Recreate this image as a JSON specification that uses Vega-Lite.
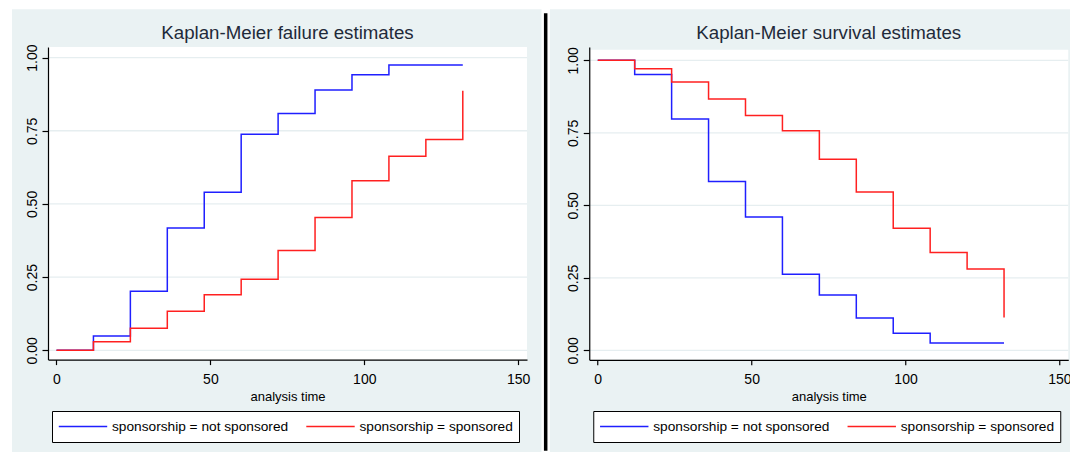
{
  "$schema": "https://vega.github.io/schema/vega-lite/v6.json",
  "background": "white",
  "padding": {"left": 11, "top": 9, "right": 0, "bottom": 0},
  "spacing": 1.25,
  "config": {
    "view": {"stroke": null},
    "font": "Liberation Sans",
    "axisX": {"tickSize": 5, "labelPadding": 8, "labelFontSize": 14, "labelFont": "Liberation Sans", "titleFont": "Liberation Sans", "titleFontSize": 13, "titlePadding": 3.5, "titleFontWeight": "normal", "grid": false, "labelFlush": false, "labelOverlap": false, "domainColor": "black", "tickColor": "black", "labelColor": "black", "titleColor": "black", "domainWidth": 1.2, "tickWidth": 1.2},
    "axisY": {"tickSize": 6, "labelAngle": 270, "labelAlign": "center", "labelBaseline": "alphabetic", "labelPadding": 6, "labelFontSize": 14, "labelFont": "Liberation Sans", "grid": false, "labelFlush": false, "labelOverlap": false, "domainColor": "black", "tickColor": "black", "labelColor": "black", "domainWidth": 1.2, "tickWidth": 1.2}
  },
  "datasets": {
    "failure": [
      {"o": 1, "t": 0, "v": 0, "group": "sponsorship = not sponsored"},
      {"o": 2, "t": 12, "v": 0.049, "group": "sponsorship = not sponsored"},
      {"o": 3, "t": 24, "v": 0.202, "group": "sponsorship = not sponsored"},
      {"o": 4, "t": 36, "v": 0.418, "group": "sponsorship = not sponsored"},
      {"o": 5, "t": 48, "v": 0.540, "group": "sponsorship = not sponsored"},
      {"o": 6, "t": 60, "v": 0.738, "group": "sponsorship = not sponsored"},
      {"o": 7, "t": 72, "v": 0.809, "group": "sponsorship = not sponsored"},
      {"o": 8, "t": 84, "v": 0.889, "group": "sponsorship = not sponsored"},
      {"o": 9, "t": 96, "v": 0.941, "group": "sponsorship = not sponsored"},
      {"o": 10, "t": 108, "v": 0.975, "group": "sponsorship = not sponsored"},
      {"o": 11, "t": 132, "v": 0.975, "group": "sponsorship = not sponsored"},
      {"o": 1, "t": 0, "v": 0, "group": "sponsorship = sponsored"},
      {"o": 2, "t": 12, "v": 0.029, "group": "sponsorship = sponsored"},
      {"o": 3, "t": 24, "v": 0.075, "group": "sponsorship = sponsored"},
      {"o": 4, "t": 36, "v": 0.133, "group": "sponsorship = sponsored"},
      {"o": 5, "t": 48, "v": 0.190, "group": "sponsorship = sponsored"},
      {"o": 6, "t": 60, "v": 0.243, "group": "sponsorship = sponsored"},
      {"o": 7, "t": 72, "v": 0.341, "group": "sponsorship = sponsored"},
      {"o": 8, "t": 84, "v": 0.454, "group": "sponsorship = sponsored"},
      {"o": 9, "t": 96, "v": 0.579, "group": "sponsorship = sponsored"},
      {"o": 10, "t": 108, "v": 0.663, "group": "sponsorship = sponsored"},
      {"o": 11, "t": 120, "v": 0.720, "group": "sponsorship = sponsored"},
      {"o": 12, "t": 132, "v": 0.720, "group": "sponsorship = sponsored"},
      {"o": 13, "t": 132, "v": 0.887, "group": "sponsorship = sponsored"}
    ],
    "survival": [
      {"o": 1, "t": 0, "v": 1, "group": "sponsorship = not sponsored"},
      {"o": 2, "t": 12, "v": 0.951, "group": "sponsorship = not sponsored"},
      {"o": 3, "t": 24, "v": 0.798, "group": "sponsorship = not sponsored"},
      {"o": 4, "t": 36, "v": 0.582, "group": "sponsorship = not sponsored"},
      {"o": 5, "t": 48, "v": 0.460, "group": "sponsorship = not sponsored"},
      {"o": 6, "t": 60, "v": 0.262, "group": "sponsorship = not sponsored"},
      {"o": 7, "t": 72, "v": 0.191, "group": "sponsorship = not sponsored"},
      {"o": 8, "t": 84, "v": 0.111, "group": "sponsorship = not sponsored"},
      {"o": 9, "t": 96, "v": 0.059, "group": "sponsorship = not sponsored"},
      {"o": 10, "t": 108, "v": 0.025, "group": "sponsorship = not sponsored"},
      {"o": 11, "t": 132, "v": 0.025, "group": "sponsorship = not sponsored"},
      {"o": 1, "t": 0, "v": 1, "group": "sponsorship = sponsored"},
      {"o": 2, "t": 12, "v": 0.971, "group": "sponsorship = sponsored"},
      {"o": 3, "t": 24, "v": 0.925, "group": "sponsorship = sponsored"},
      {"o": 4, "t": 36, "v": 0.867, "group": "sponsorship = sponsored"},
      {"o": 5, "t": 48, "v": 0.810, "group": "sponsorship = sponsored"},
      {"o": 6, "t": 60, "v": 0.757, "group": "sponsorship = sponsored"},
      {"o": 7, "t": 72, "v": 0.659, "group": "sponsorship = sponsored"},
      {"o": 8, "t": 84, "v": 0.546, "group": "sponsorship = sponsored"},
      {"o": 9, "t": 96, "v": 0.421, "group": "sponsorship = sponsored"},
      {"o": 10, "t": 108, "v": 0.337, "group": "sponsorship = sponsored"},
      {"o": 11, "t": 120, "v": 0.280, "group": "sponsorship = sponsored"},
      {"o": 12, "t": 132, "v": 0.280, "group": "sponsorship = sponsored"},
      {"o": 13, "t": 132, "v": 0.113, "group": "sponsorship = sponsored"}
    ],
    "grid": [{"g": 0}, {"g": 0.25}, {"g": 0.5}, {"g": 0.75}, {"g": 1}],
    "blank": [{}]
  },
  "resolve": {"scale": {"color": "independent"}, "legend": {"color": "independent"}},
  "hconcat": [
    {
      "width": 479,
      "height": 312.6,
      "title": {"text": "Kaplan-Meier failure estimates", "fontSize": 18.7, "fontWeight": "normal", "color": "#1f2a3a", "font": "Liberation Sans", "offset": -33.4},
      "layer": [
        {
          "data": {"name": "blank"},
          "mark": {"type": "rect", "color": "#EAF2F3"},
          "encoding": {
            "x": {"datum": -14.456, "type": "quantitative", "scale": {"domain": [-2.76, 152.86], "nice": false, "zero": false}, "axis": {"values": [0, 50, 100, 150], "zindex": 1}, "title": "analysis time"},
            "x2": {"datum": 157.57},
            "y": {"datum": -0.36, "type": "quantitative", "scale": {"domain": [-0.0318, 1.0362], "nice": false, "zero": false}, "axis": {"values": [0, 0.25, 0.5, 0.75, 1], "format": ".2f", "zindex": 1}, "title": null},
            "y2": {"datum": 1.165}
          }
        },
        {
          "data": {"name": "blank"},
          "mark": {"type": "rect", "color": "white"},
          "encoding": {
            "x": {"datum": -2.76, "type": "quantitative", "scale": {"domain": [-2.76, 152.86], "nice": false, "zero": false}, "axis": {"values": [0, 50, 100, 150], "zindex": 1}, "title": "analysis time"},
            "x2": {"datum": 152.86},
            "y": {"datum": -0.0318, "type": "quantitative", "scale": {"domain": [-0.0318, 1.0362], "nice": false, "zero": false}, "axis": {"values": [0, 0.25, 0.5, 0.75, 1], "format": ".2f", "zindex": 1}, "title": null},
            "y2": {"datum": 1.0362}
          }
        },
        {
          "data": {"name": "grid"},
          "mark": {"type": "rule", "color": "#E6EEF0", "strokeWidth": 1.3},
          "encoding": {
            "y": {"field": "g", "type": "quantitative", "scale": {"domain": [-0.0318, 1.0362], "nice": false, "zero": false}, "axis": {"values": [0, 0.25, 0.5, 0.75, 1], "format": ".2f", "zindex": 1}, "title": null}
          }
        },
        {
          "data": {"name": "failure"},
          "mark": {"type": "line", "interpolate": "step-after", "strokeWidth": 1.5},
          "encoding": {
            "x": {"field": "t", "type": "quantitative", "scale": {"domain": [-2.76, 152.86], "nice": false, "zero": false}, "axis": {"values": [0, 50, 100, 150], "zindex": 1}, "title": "analysis time"},
            "y": {"field": "v", "type": "quantitative", "scale": {"domain": [-0.0318, 1.0362], "nice": false, "zero": false}, "axis": {"values": [0, 0.25, 0.5, 0.75, 1], "format": ".2f", "zindex": 1}, "title": null},
            "order": {"field": "o", "type": "quantitative"},
            "color": {"field": "group", "type": "nominal",
              "scale": {"domain": ["sponsorship = not sponsored", "sponsorship = sponsored"], "range": ["#1f1fff", "#ff2020"]},
              "legend": {"orient": "none", "legendX": 4, "legendY": 364, "direction": "horizontal", "title": null, "symbolType": "stroke", "symbolSize": 2343, "symbolStrokeWidth": 1.5, "clipHeight": 19, "padding": 6, "labelOffset": 4, "columnPadding": 16.5, "labelFontSize": 13.7, "labelFont": "Liberation Sans", "labelColor": "black", "labelLimit": 400, "strokeColor": "black", "fillColor": "white"}}
          }
        },
        {
          "data": {"name": "blank"},
          "mark": {"type": "rule", "color": "black", "strokeWidth": 3.5},
          "encoding": {
            "x": {"datum": 158.93, "type": "quantitative", "scale": {"domain": [-2.76, 152.86], "nice": false, "zero": false}, "axis": {"values": [0, 50, 100, 150], "zindex": 1}, "title": "analysis time"},
            "y": {"datum": -0.3428, "type": "quantitative", "scale": {"domain": [-0.0318, 1.0362], "nice": false, "zero": false}, "axis": {"values": [0, 0.25, 0.5, 0.75, 1], "format": ".2f", "zindex": 1}, "title": null},
            "y2": {"datum": 1.1514}
          }
        }
      ]
    },
    {
      "width": 479,
      "height": 312.8,
      "title": {"text": "Kaplan-Meier survival estimates", "fontSize": 18.7, "fontWeight": "normal", "color": "#1f2a3a", "font": "Liberation Sans", "offset": -33.4},
      "layer": [
        {
          "data": {"name": "blank"},
          "mark": {"type": "rect", "color": "#EAF2F3"},
          "encoding": {
            "x": {"datum": -15.53, "type": "quantitative", "scale": {"domain": [-2.76, 152.86], "nice": false, "zero": false}, "axis": {"values": [0, 50, 100, 150], "zindex": 1}, "title": "analysis time"},
            "x2": {"datum": 158},
            "y": {"datum": -0.3621, "type": "quantitative", "scale": {"domain": [-0.0328, 1.0459], "nice": false, "zero": false}, "axis": {"values": [0, 0.25, 0.5, 0.75, 1], "format": ".2f", "zindex": 1}, "title": null},
            "y2": {"datum": 1.1759}
          }
        },
        {
          "data": {"name": "blank"},
          "mark": {"type": "rect", "color": "white"},
          "encoding": {
            "x": {"datum": -2.76, "type": "quantitative", "scale": {"domain": [-2.76, 152.86], "nice": false, "zero": false}, "axis": {"values": [0, 50, 100, 150], "zindex": 1}, "title": "analysis time"},
            "x2": {"datum": 152.86},
            "y": {"datum": -0.0328, "type": "quantitative", "scale": {"domain": [-0.0328, 1.0459], "nice": false, "zero": false}, "axis": {"values": [0, 0.25, 0.5, 0.75, 1], "format": ".2f", "zindex": 1}, "title": null},
            "y2": {"datum": 1.0362}
          }
        },
        {
          "data": {"name": "grid"},
          "mark": {"type": "rule", "color": "#E6EEF0", "strokeWidth": 1.3},
          "encoding": {
            "y": {"field": "g", "type": "quantitative", "scale": {"domain": [-0.0328, 1.0459], "nice": false, "zero": false}, "axis": {"values": [0, 0.25, 0.5, 0.75, 1], "format": ".2f", "zindex": 1}, "title": null}
          }
        },
        {
          "data": {"name": "survival"},
          "mark": {"type": "line", "interpolate": "step-after", "strokeWidth": 1.5},
          "encoding": {
            "x": {"field": "t", "type": "quantitative", "scale": {"domain": [-2.76, 152.86], "nice": false, "zero": false}, "axis": {"values": [0, 50, 100, 150], "zindex": 1}, "title": "analysis time"},
            "y": {"field": "v", "type": "quantitative", "scale": {"domain": [-0.0328, 1.0459], "nice": false, "zero": false}, "axis": {"values": [0, 0.25, 0.5, 0.75, 1], "format": ".2f", "zindex": 1}, "title": null},
            "order": {"field": "o", "type": "quantitative"},
            "color": {"field": "group", "type": "nominal",
              "scale": {"domain": ["sponsorship = not sponsored", "sponsorship = sponsored"], "range": ["#1f1fff", "#ff2020"]},
              "legend": {"orient": "none", "legendX": 4, "legendY": 364, "direction": "horizontal", "title": null, "symbolType": "stroke", "symbolSize": 2343, "symbolStrokeWidth": 1.5, "clipHeight": 19, "padding": 6, "labelOffset": 4, "columnPadding": 16.5, "labelFontSize": 13.7, "labelFont": "Liberation Sans", "labelColor": "black", "labelLimit": 400, "strokeColor": "black", "fillColor": "white"}}
          }
        }
      ]
    }
  ]
}
